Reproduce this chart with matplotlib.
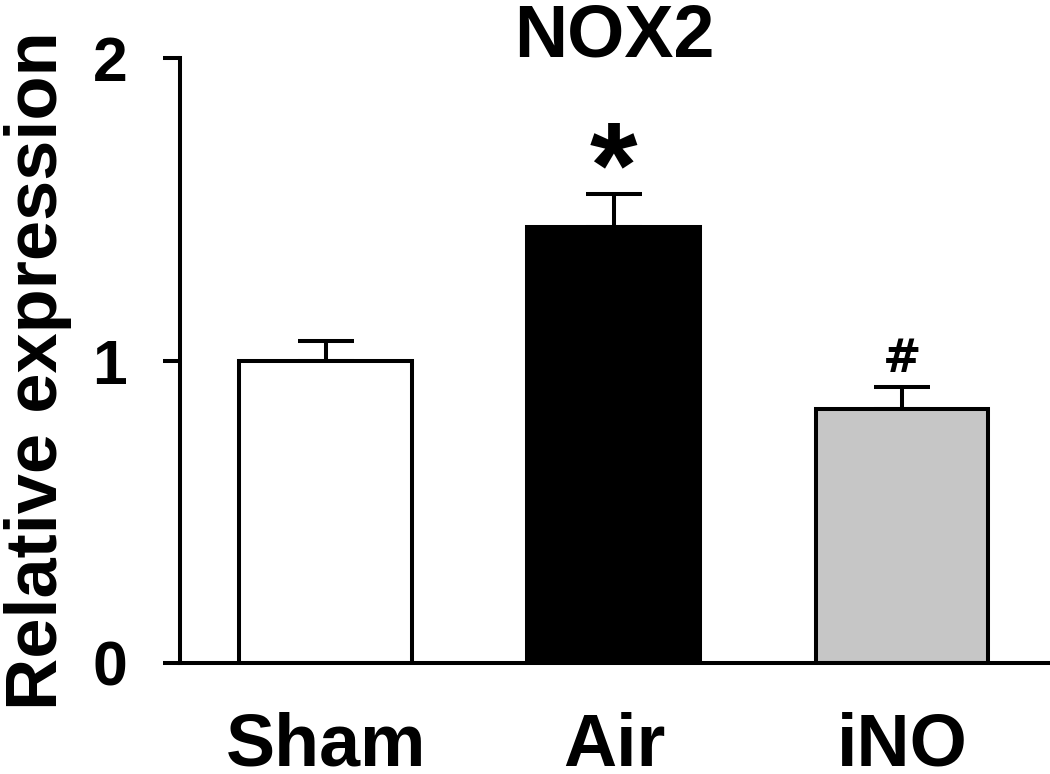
import matplotlib
matplotlib.use("Agg")
import matplotlib.pyplot as plt

plt.rcParams['font.family'] = ['Liberation Sans', 'DejaVu Sans']
plt.rcParams['font.weight'] = 'bold'

groups = ["Sham", "Air", "iNO"]
means = [1.00, 1.44, 0.84]
sems = [0.063, 0.109, 0.073]
colors = ["white", "black", "#c6c6c6"]
marks = ["", "*", "#"]

fig = plt.figure(figsize=(10.5, 7.74), dpi=100)
ax = fig.add_axes([180 / 1050, 1 - 663 / 774, 868 / 1050, 605 / 774])

x = range(len(groups))
ax.bar(x, means, width=0.60, color=colors, edgecolor="black", linewidth=2.9, zorder=2)
ax.errorbar(x, means, yerr=[[0, 0, 0], sems], fmt="none", ecolor="black",
            elinewidth=2.9, capsize=20, capthick=2.9, zorder=1)

# significance marks
ax.text(1, 1.51, marks[1], ha="center", va="baseline", fontsize=88, fontweight="bold")
ax.text(2, 0.962, marks[2], ha="center", va="baseline", fontsize=33, fontweight="bold",
        family="DejaVu Sans")

ax.set_xlim(-0.506, 2.507)
ax.set_ylim(0, 2)
ax.set_yticks([0, 1, 2])
ax.set_xticks(list(x))
ax.set_xticklabels(groups, fontsize=53, fontweight="bold")
ax.set_yticklabels(["0", "1", "2"], fontsize=45, fontweight="bold")
ax.tick_params(axis="y", direction="out", length=12, width=2.9, pad=26)
ax.tick_params(axis="x", length=0, pad=35)

for s in ["top", "right"]:
    ax.spines[s].set_visible(False)
for s in ["left", "bottom"]:
    ax.spines[s].set_linewidth(2.9)

ax.set_ylabel("Relative expression", fontsize=52, fontweight="bold")
ax.yaxis.set_label_coords(-0.124, 0.484)
ax.set_title("NOX2", fontsize=53, fontweight="bold", y=1.0, pad=1)

fig.savefig("out.png", dpi=100)
